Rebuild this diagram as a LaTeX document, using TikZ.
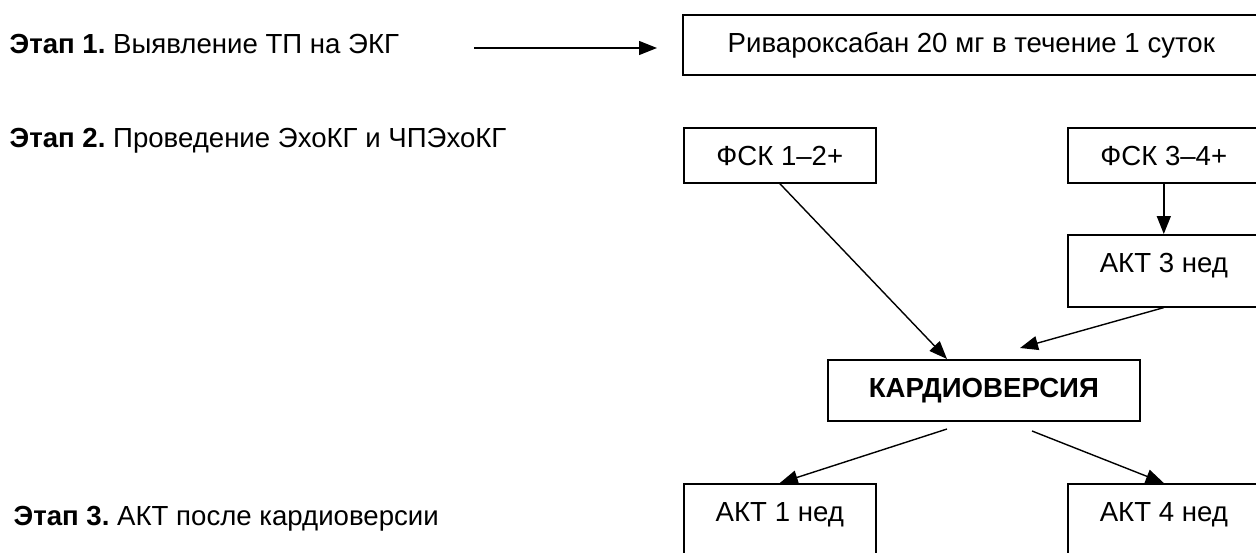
\documentclass[tikz,border=0pt]{standalone}
\usepackage{fontspec}
\setmainfont{Liberation Sans}
\usetikzlibrary{arrows.meta,calc}
\begin{document}
\begin{tikzpicture}[x=1pt,y=-1pt,
  txt/.style={font=\fontsize{27.6}{32}\selectfont},
  box/.style={txt,draw,line width=1.6pt,rectangle,anchor=north west,inner xsep=0pt,inner ysep=0pt,text height=38pt},
  conn/.style={line width=1.4pt,-{Triangle[length=18pt,width=14pt]}},
  stage/.style={txt,anchor=base west,inner sep=0pt}]
\useasboundingbox (0,0) rectangle (1256,552);
\clip (0,0) rectangle (1256,552);
% stage texts
\node[stage] (s1) at (113,53) {\llap{\textbf{Этап 1.}\ }Выявление ТП на ЭКГ};
\node[stage] (s2) at (113,147) {\llap{\textbf{Этап 2.}\ }Проведение ЭхоКГ и ЧПЭхоКГ};
\node[stage] (s3) at (117,525) {\llap{\textbf{Этап 3.}\ }АКТ после кардиоверсии};
% boxes
\node[box,minimum width=577pt,text depth=22pt] (riv) at (682,14) {Ривароксабан 20 мг в течение 1 суток};
\node[box,minimum width=192pt,text depth=17pt] (fsk12) at (683,127) {ФСК 1–2+};
\node[box,minimum width=192pt,text depth=17pt] (fsk34) at (1067,127) {ФСК 3–4+};
\node[box,minimum width=192pt,text depth=34pt] (akt3) at (1067,234) {АКТ 3 нед};
\node[box,minimum width=312pt,text depth=23pt,font=\fontsize{27.6}{32}\selectfont\bfseries] (kard) at (827,359) {КАРДИОВЕРСИЯ};
\node[box,minimum width=192pt,text depth=90pt] (akt1) at (683,483) {АКТ 1 нед};
\node[box,minimum width=192pt,text depth=90pt] (akt4) at (1067,483) {АКТ 4 нед};
% connectors
\coordinate (a1s) at (474,48);
\coordinate (a1e) at (657,48);
\draw[conn] (a1s) -- (a1e);
\draw[conn] (fsk34.south) -- (akt3.north);
\draw[conn] (fsk12.south) -- ($(kard.north west)+(120,0)$);
\coordinate (k2) at (1020,348);
\draw[conn] (akt3.south) -- (k2);
\coordinate (k3) at (947,429);
\draw[conn] (k3) -- (akt1.north);
\coordinate (k4) at (1032,431);
\draw[conn] (k4) -- (akt4.north);
\end{tikzpicture}
\end{document}
